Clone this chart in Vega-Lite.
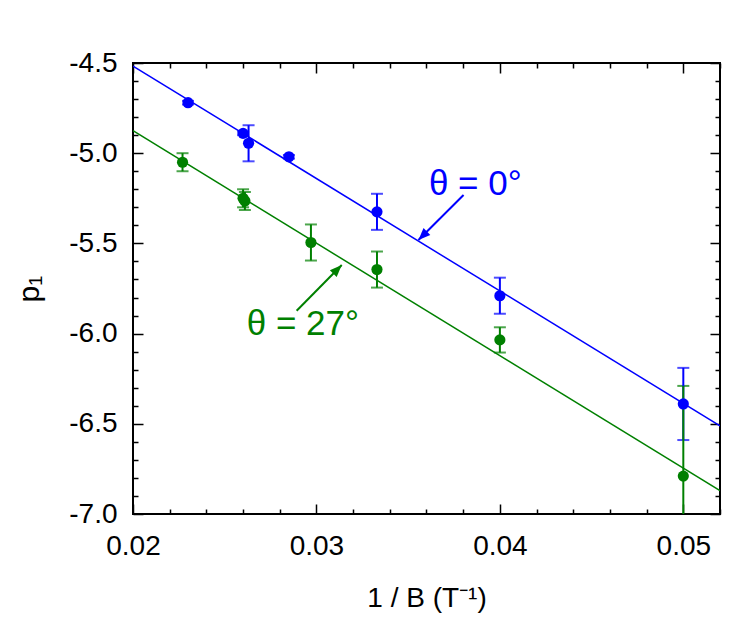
{
  "$schema": "https://vega.github.io/schema/vega-lite/v6.json",
  "width": 587,
  "height": 451,
  "autosize": "none",
  "padding": {"left": 133, "top": 63, "right": 33, "bottom": 104},
  "background": "white",
  "datasets": {
    "points": [
      {"theta": "0°", "invB": 0.0230, "p1": -4.72, "err": 0.01},
      {"theta": "0°", "invB": 0.0260, "p1": -4.89, "err": 0.01},
      {"theta": "0°", "invB": 0.0263, "p1": -4.945, "err": 0.1},
      {"theta": "0°", "invB": 0.0285, "p1": -5.02, "err": 0.01},
      {"theta": "0°", "invB": 0.0333, "p1": -5.325, "err": 0.1},
      {"theta": "0°", "invB": 0.0400, "p1": -5.79, "err": 0.1},
      {"theta": "0°", "invB": 0.0500, "p1": -6.39, "err": 0.2},
      {"theta": "27°", "invB": 0.0227, "p1": -5.05, "err": 0.05},
      {"theta": "27°", "invB": 0.0260, "p1": -5.25, "err": 0.05},
      {"theta": "27°", "invB": 0.0261, "p1": -5.265, "err": 0.05},
      {"theta": "27°", "invB": 0.0297, "p1": -5.495, "err": 0.1},
      {"theta": "27°", "invB": 0.0333, "p1": -5.645, "err": 0.1},
      {"theta": "27°", "invB": 0.0400, "p1": -6.035, "err": 0.07},
      {"theta": "27°", "invB": 0.0500, "p1": -6.79, "err": 0.5}
    ],
    "fits": [
      {"theta": "0°", "invB": 0.020, "p1": -4.517},
      {"theta": "0°", "invB": 0.052, "p1": -6.512},
      {"theta": "27°", "invB": 0.020, "p1": -4.875},
      {"theta": "27°", "invB": 0.052, "p1": -6.871}
    ],
    "labels": [
      {"theta": "0°", "text": "θ = 0°", "invB": 0.03866, "p1": -5.232},
      {"theta": "27°", "text": "θ = 27°", "invB": 0.02926, "p1": -6.008}
    ],
    "arrows": [
      {"theta": "0°", "invB": 0.03802, "p1": -5.232, "tipB": 0.03556, "tipP": -5.481},
      {"theta": "27°", "invB": 0.02892, "p1": -5.873, "tipB": 0.03138, "tipP": -5.620}
    ]
  },
  "resolve": {"axis": {"x": "independent", "y": "independent"}},
  "layer": [
    {
      "data": {"name": "fits"},
      "mark": {"type": "line", "strokeWidth": 1.5, "clip": true},
      "encoding": {
        "x": {"field": "invB", "type": "quantitative",
          "scale": {"domain": [0.02, 0.052], "nice": false, "zero": false},
          "axis": {"orient": "bottom", "values": [0.02, 0.03, 0.04, 0.05], "format": ".2f",
            "ticks": false, "labelFlush": false, "labelPadding": 18, "title": "1 / B (T⁻¹)", "titlePadding": 24}},
        "y": {"field": "p1", "type": "quantitative",
          "scale": {"domain": [-7, -4.5], "nice": false, "zero": false},
          "axis": {"orient": "left", "values": [-4.5, -5, -5.5, -6, -6.5, -7], "format": ".1f",
            "ticks": false, "labelFlush": false, "labelPadding": 16, "title": "p₁", "titleFontSize": 30, "titlePadding": 24}},
        "color": {"field": "theta", "type": "nominal",
          "scale": {"domain": ["0°", "27°"], "range": ["#0000ff", "#008000"]}, "legend": null},
        "detail": {"field": "theta"}
      }
    },
    {
      "data": {"name": "points"},
      "mark": {"type": "errorbar", "ticks": true, "size": 12, "thickness": 2, "clip": true},
      "encoding": {
        "x": {"field": "invB", "type": "quantitative", "axis": null},
        "y": {"field": "p1", "type": "quantitative", "axis": null},
        "yError": {"field": "err"},
        "color": {"field": "theta", "type": "nominal", "legend": null}
      }
    },
    {
      "data": {"name": "points"},
      "mark": {"type": "point", "filled": true, "opacity": 1, "size": 125, "shape": "circle"},
      "encoding": {
        "x": {"field": "invB", "type": "quantitative",
          "axis": {"orient": "top", "offset": -451, "values": [0.02, 0.03, 0.04, 0.05],
            "tickSize": 10, "labels": false, "title": null}},
        "y": {"field": "p1", "type": "quantitative",
          "axis": {"orient": "right", "offset": -587, "values": [-4.5, -5, -5.5, -6, -6.5, -7],
            "tickSize": 10, "labels": false, "title": null}},
        "color": {"field": "theta", "type": "nominal", "legend": null}
      }
    },
    {
      "data": {"name": "arrows"},
      "mark": {"type": "rule", "strokeWidth": 2},
      "encoding": {
        "x": {"field": "invB", "type": "quantitative",
          "axis": {"orient": "bottom", "offset": -451, "values": [0.02, 0.03, 0.04, 0.05],
            "tickSize": 10, "labels": false, "title": null}},
        "y": {"field": "p1", "type": "quantitative",
          "axis": {"orient": "left", "offset": -587, "values": [-4.5, -5, -5.5, -6, -6.5, -7],
            "tickSize": 10, "labels": false, "title": null}},
        "x2": {"field": "tipB"},
        "y2": {"field": "tipP"},
        "color": {"field": "theta", "type": "nominal", "legend": null}
      }
    },
    {
      "data": {"name": "arrows"},
      "mark": {"type": "point", "filled": true, "opacity": 1, "size": 256, "shape": "M0,0L-0.6,1.5L0.6,1.5Z"},
      "encoding": {
        "x": {"field": "tipB", "type": "quantitative",
          "axis": {"orient": "top", "offset": -451, "values": [0.022, 0.024, 0.026, 0.028, 0.032, 0.034, 0.036, 0.038, 0.042, 0.044, 0.046, 0.048, 0.052],
            "tickSize": 5, "labels": false, "title": null}},
        "y": {"field": "tipP", "type": "quantitative",
          "axis": {"orient": "right", "offset": -587, "values": [-4.6, -4.7, -4.8, -4.9, -5.1, -5.2, -5.3, -5.4, -5.6, -5.7, -5.8, -5.9, -6.1, -6.2, -6.3, -6.4, -6.6, -6.7, -6.8, -6.9],
            "tickSize": 5, "labels": false, "title": null}},
        "angle": {"condition": {"test": "datum.theta === '0°'", "value": 225}, "value": 45},
        "color": {"field": "theta", "type": "nominal", "legend": null}
      }
    },
    {
      "data": {"name": "labels"},
      "mark": {"type": "text", "font": "Liberation Sans", "fontSize": 35, "align": "center", "baseline": "alphabetic"},
      "encoding": {
        "x": {"field": "invB", "type": "quantitative",
          "axis": {"orient": "bottom", "offset": -451, "values": [0.022, 0.024, 0.026, 0.028, 0.032, 0.034, 0.036, 0.038, 0.042, 0.044, 0.046, 0.048, 0.052],
            "tickSize": 5, "labels": false, "title": null}},
        "y": {"field": "p1", "type": "quantitative",
          "axis": {"orient": "left", "offset": -587, "values": [-4.6, -4.7, -4.8, -4.9, -5.1, -5.2, -5.3, -5.4, -5.6, -5.7, -5.8, -5.9, -6.1, -6.2, -6.3, -6.4, -6.6, -6.7, -6.8, -6.9],
            "tickSize": 5, "labels": false, "title": null}},
        "text": {"field": "text"},
        "color": {"field": "theta", "type": "nominal", "legend": null}
      }
    }
  ],
  "config": {
    "locale": {"number": {"decimal": ".", "thousands": ",", "grouping": [3], "currency": ["$", ""], "minus": "-"}},
    "view": {"stroke": "black", "strokeWidth": 2},
    "axis": {
      "domain": false,
      "grid": false,
      "tickColor": "black",
      "tickWidth": 1.5,
      "labelFont": "Liberation Sans",
      "labelFontSize": 28,
      "labelColor": "black",
      "titleFont": "Liberation Sans",
      "titleFontSize": 28,
      "titleFontWeight": "normal",
      "titleColor": "black"
    }
  }
}
